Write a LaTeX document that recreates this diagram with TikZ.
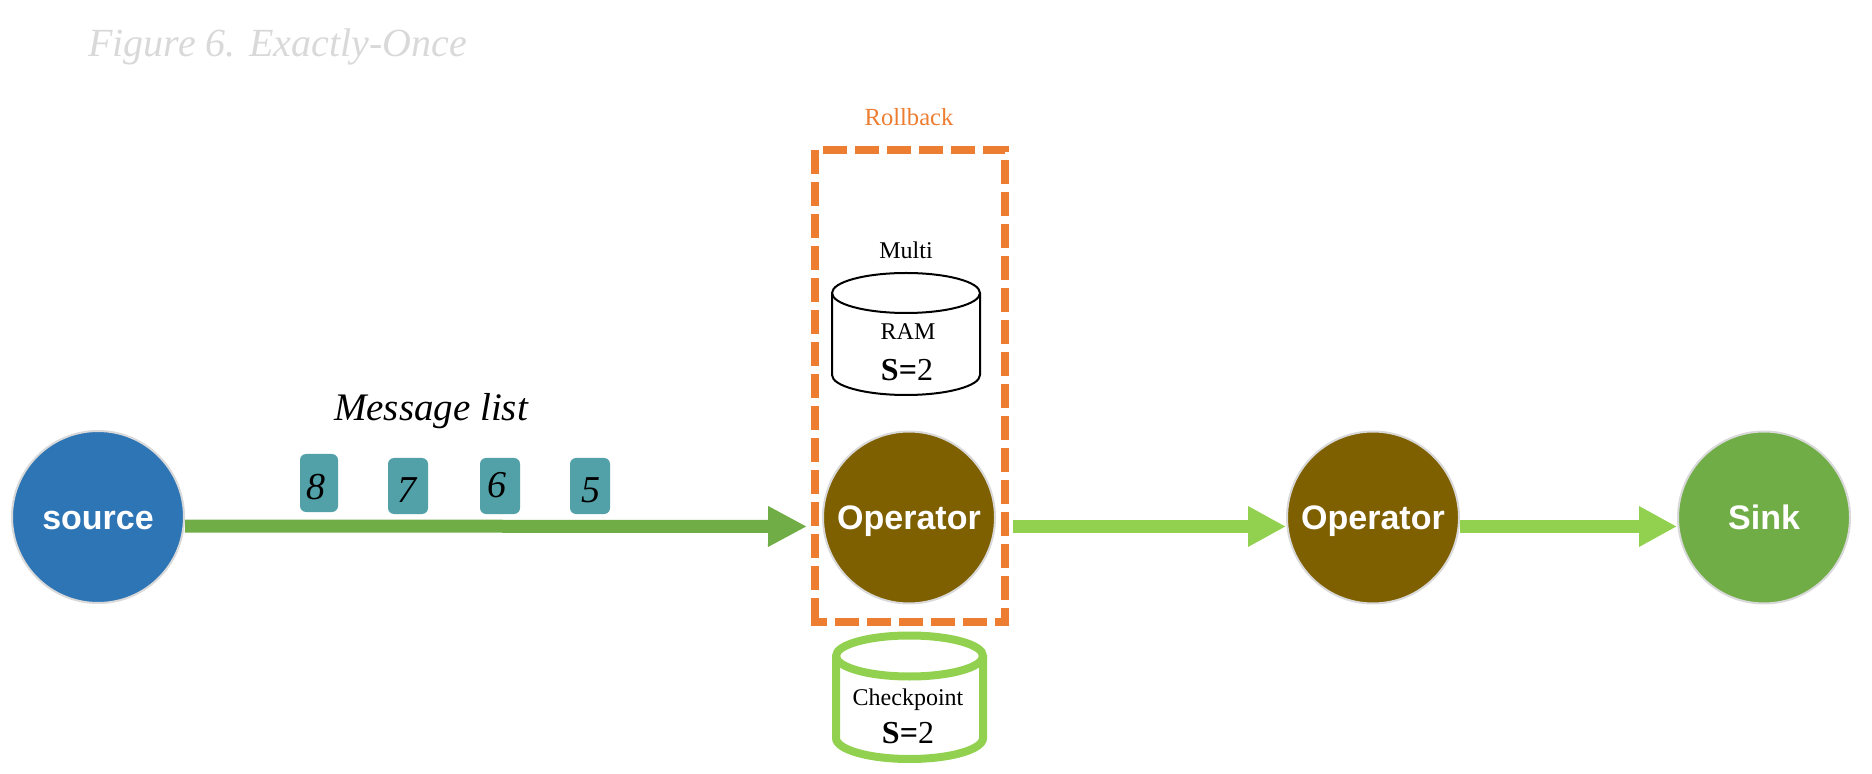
\documentclass[tikz,border=0pt]{standalone}
\usepackage{fontspec}
\setmainfont{Liberation Serif}
\newfontfamily\arialf{Liberation Sans}
\usetikzlibrary{arrows.meta,shapes.geometric}
\definecolor{brandblue}{HTML}{2E75B6}
\definecolor{opbrown}{HTML}{7F6000}
\definecolor{sinkgreen}{HTML}{70AD47}
\definecolor{lightgreen}{HTML}{92D050}
\definecolor{rollorange}{HTML}{ED7D31}
\definecolor{cardteal}{HTML}{53A1A8}
\definecolor{ringgrey}{HTML}{D9D9D9}
\newcommand{\circtext}[1]{\raisebox{-1.8pt}[\height][\depth]{#1}}
\newcommand{\dgt}[3]{\raisebox{#2}[\height][\depth]{\kern#1 #3}}
\tikzset{
  px/.style={x=0.5pt,y=-0.5pt},
  circ/.style={circle,draw=ringgrey,line width=1pt,minimum size=86pt,inner sep=0pt,text=white,font=\arialf\bfseries\fontsize{17}{20}\selectfont},
  card/.style={draw=none,fill=cardteal,rounded corners=3pt,inner sep=0pt,font=\itshape\fontsize{19}{22}\selectfont},
  flowdark/.style={draw=sinkgreen,line width=6.5pt,-{Triangle[length=19.5pt,width=19pt]}},
  flowlight/.style={draw=lightgreen,line width=6.5pt,-{Triangle[length=19pt,width=19pt]}},
  lbl/.style={inner sep=0pt,font=\fontsize{12}{14}\selectfont},
  val/.style={inner sep=0pt,font=\fontsize{16}{18}\selectfont},
  script/.style={inner sep=0pt,font=\itshape\fontsize{20}{23}\selectfont},
  rollline/.style={rollorange,line width=4pt,dash pattern=on 12pt off 4pt},
}
\begin{document}
\begin{tikzpicture}[px]
\useasboundingbox (0,0) rectangle (1872,774);
% title
\node[script,text=ringgrey,anchor=west] (title) at (88,47) {Figure 6. Exactly-Once};
% rollback
\node[inner sep=0pt,text=rollorange,font=\fontsize{12.3}{14}\selectfont] (rb) at (909,117) {Rollback};
\draw[rollline] (823,150) -- (1005,150) -- (1005,622) -- (811,622);
\draw[rollline] (815,150) -- (815,622);
% RAM cylinder
\draw[black,line width=1pt,fill=white] (832,293) -- (832,375) arc[start angle=180,end angle=360,x radius=74,y radius=-20] -- (980,293);
\draw[black,line width=1pt] (906,293) ellipse[x radius=74,y radius=20];
\node[lbl] (multi) at (906,250) {Multi};
\node[lbl] (ram) at (908,332) {RAM};
\node[val] (s1) at (907,370) {\textbf{S=}2};
% checkpoint cylinder
\draw[lightgreen,line width=4pt,fill=white] (836,656) -- (836,738) arc[start angle=180,end angle=360,x radius=73.5,y radius=-21] -- (983,656);
\draw[lightgreen,line width=4pt] (909.5,656) ellipse[x radius=73.5,y radius=20.5];
\node[lbl] (cp) at (908,700) {Checkpoint};
\node[val] (s2) at (908,733) {\textbf{S=}2};
% nodes
\node[circ,fill=brandblue] (source) at (98,517) {\circtext{source}};
\node[circ,fill=opbrown] (op1) at (909,517.5) {\circtext{Operator}};
\node[circ,fill=opbrown] (op2) at (1373,517.5) {\circtext{Operator}};
\node[circ,fill=sinkgreen] (sink) at (1764,517.5) {\circtext{\vphantom{p}Sink}};
% cards
\node[card,minimum width=19pt,minimum height=29pt] (m8) at (319,483) {\dgt{-3pt}{-2pt}{8}};
\node[card,minimum width=20pt,minimum height=28pt] (m7) at (408,486) {\dgt{-1pt}{-2pt}{7}};
\node[card,minimum width=20pt,minimum height=28pt] (m6) at (500,486) {\dgt{-3pt}{0.5pt}{6}};
\node[card,minimum width=20pt,minimum height=28pt] (m5) at (590,486) {\dgt{1pt}{-2pt}{5}};
\node[script,text=black,font=\itshape\fontsize{19.5}{23}\selectfont] (ml) at (431,411) {Message list};
% arrows
\draw[flowdark,shorten >=7.5pt] ([yshift=-4.5pt]source.east) -- ([yshift=-4.5pt]op1.west);
\draw[flowlight,shorten <=8.5pt] ([yshift=-4.5pt]op1.east) -- ([yshift=-4.5pt]op2.west);
\draw[flowlight] ([yshift=-4.5pt]op2.east) -- ([yshift=-4.5pt]sink.west);
\end{tikzpicture}
\end{document}
